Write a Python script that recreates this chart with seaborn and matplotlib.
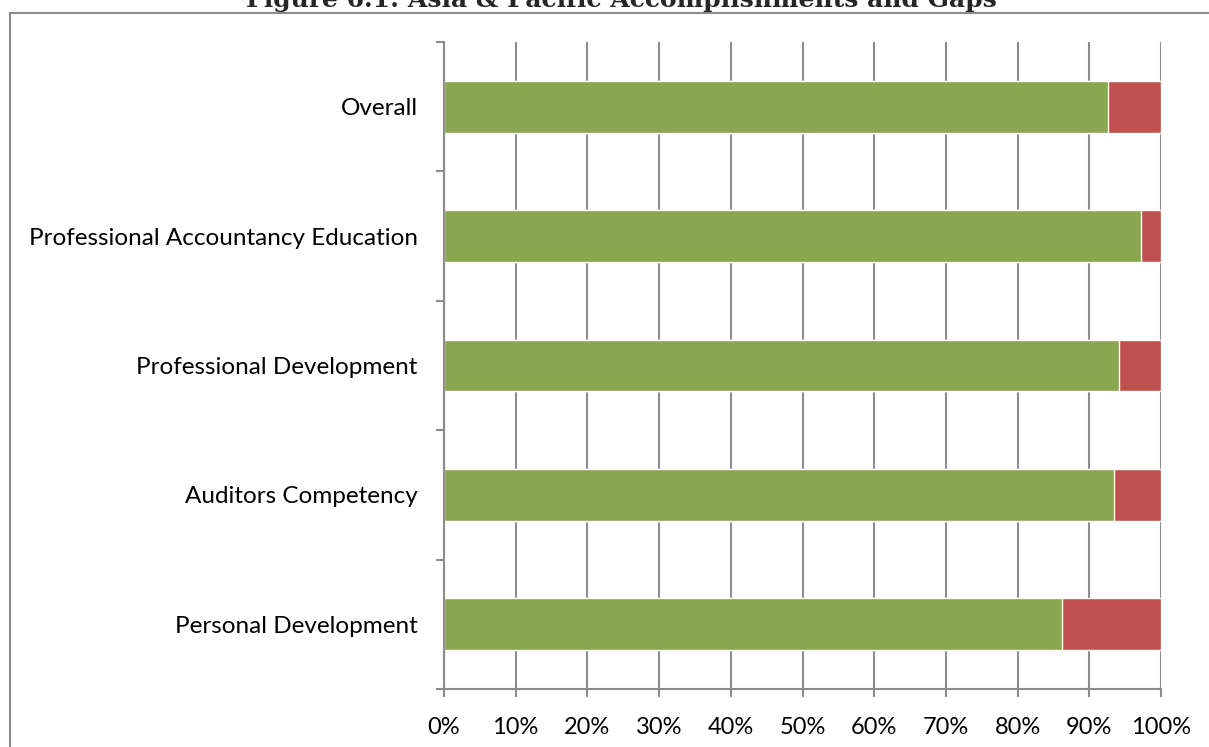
import matplotlib
matplotlib.use("Agg")
import matplotlib.pyplot as plt
import seaborn as sns
import pandas as pd
import numpy as np
from matplotlib.patches import Rectangle
from matplotlib.ticker import FixedLocator

categories = [
    "Overall",
    "Professional Accountancy Education",
    "Professional Development",
    "Auditors Competency",
    "Personal Development",
]
accomplished = [92.6, 97.2, 94.1, 93.4, 86.2]
gaps = [7.4, 2.8, 5.9, 6.6, 13.8]
x_ticks = [0, 10, 20, 30, 40, 50, 60, 70, 80, 90, 100]
x_tick_labels = ["0%", "10%", "20%", "30%", "40%", "50%", "60%", "70%", "80%", "90%", "100%"]
title = "Figure 6.1: Asia & Pacific Accomplishments and Gaps"

GREEN = "#8AA64F"
RED = "#C0504D"
GRID = "#8C8C8C"

sns.set_theme(style="white")
plt.rcParams["font.family"] = ["Lato", "DejaVu Sans"]

df = pd.DataFrame({
    "category": categories,
    "accomplished": accomplished,
    "gap": gaps,
})
df["total"] = df["accomplished"] + df["gap"]

W, H = 1209, 747
fig = plt.figure(figsize=(W / 100, H / 100), dpi=100)
ax = fig.add_axes([444 / W, 1 - 689 / H, (1161 - 444) / W, (689 - 42) / H])

# stacked horizontal bars: full length in red, accomplished share in green on top
sns.barplot(data=df, y="category", x="total", orient="h", color=RED,
            width=0.4, saturation=1, ax=ax, order=categories)
sns.barplot(data=df, y="category", x="accomplished", orient="h", color=GREEN,
            width=0.4, saturation=1, ax=ax, order=categories)

ax.set_xlim(0, 100)
ax.set_ylim(len(categories) - 0.5, -0.5)
ax.set_xlabel("")
ax.set_ylabel("")

ax.set_axisbelow(True)
ax.xaxis.set_major_locator(FixedLocator(x_ticks))
ax.set_xticklabels(x_tick_labels, fontsize=17, color="black")
ax.grid(axis="x", color=GRID, linewidth=1.5)
ax.grid(axis="y", visible=False)

ax.tick_params(axis="x", which="major", direction="out", length=6, width=1.5,
               color=GRID, pad=14.5, bottom=True)
ax.tick_params(axis="y", which="major", length=0, pad=19, labelsize=17.5, labelcolor="black")
ax.yaxis.set_minor_locator(FixedLocator(np.arange(-0.5, len(categories), 1.0)))
ax.tick_params(axis="y", which="minor", direction="out", length=6, width=1.5,
               color=GRID, left=True)

for side in ["top", "right"]:
    ax.spines[side].set_visible(False)
for side in ["left", "bottom"]:
    ax.spines[side].set_color(GRID)
    ax.spines[side].set_linewidth(1.5)

# chart frame
fig.patches.append(Rectangle((10 / W, -0.05), 1.2, 1 - 12.5 / H + 0.05,
                             transform=fig.transFigure, fill=False,
                             edgecolor=GRID, linewidth=1.5))

fig.text(621 / W, 1 - 7 / H, title, ha="center", va="baseline",
         fontsize=18, fontweight="bold", family=["DejaVu Serif"])

fig.savefig("out.png", dpi=100)
